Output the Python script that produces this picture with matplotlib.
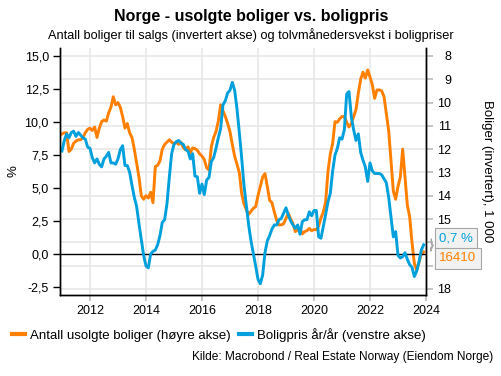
import numpy as np
import matplotlib
matplotlib.use("Agg")
import matplotlib.pyplot as plt
from matplotlib.ticker import FuncFormatter, MultipleLocator
from matplotlib.lines import Line2D

plt.rcParams["font.family"] = ["Liberation Sans", "DejaVu Sans"]

# Monthly data, Jan 2011 - Dec 2023
start_year = 2011
price_yoy = [  # Boligpris år/år, % (left axis)
    7.8, 8.6, 9.1, 8.8, 9.2, 9.3, 8.9, 9.2, 9.0, 8.8, 8.7, 8.1,
    8.0, 7.3, 6.9, 7.2, 6.8, 6.6, 7.2, 7.4, 7.7, 6.9, 6.9, 6.8,
    7.2, 7.9, 8.2, 6.7, 6.7, 6.2, 5.2, 4.3, 3.6, 2.3, 1.1, -0.1,
    -0.9, -1.05, 0.0, 0.2, 0.3, 0.7, 1.4, 2.4, 2.6, 3.8, 5.8, 7.6,
    8.3, 8.5, 8.6, 8.4, 8.3, 7.9, 7.8, 7.2, 7.6, 5.9, 5.85, 4.6,
    5.3, 4.5, 5.6, 5.8, 7.0, 7.3, 8.0, 8.8, 9.5, 11.3, 11.6, 12.2,
    12.4, 13.0, 12.4, 11.0, 9.2, 7.3, 5.2, 3.7, 2.2, 1.0, 0.05, -0.9,
    -1.9, -2.25, -1.6, 0.1, 1.0, 1.4, 1.9, 2.2, 2.2, 2.6, 2.7, 3.1,
    3.5, 2.95, 2.5, 2.2, 1.95, 2.2, 1.5, 2.45, 2.6, 2.6, 3.2, 2.9,
    3.3, 3.3, 1.3, 1.2, 2.1, 3.0, 3.95, 4.6, 6.3, 7.5, 8.0, 8.8,
    8.7, 9.4, 12.1, 12.3, 10.4, 9.4, 8.6, 9.1, 7.7, 7.1, 6.6, 5.5,
    6.9, 6.3, 6.1, 6.1, 6.1, 6.0, 5.7, 5.4, 4.3, 2.8, 1.3, 1.7,
    -0.1, -0.3, -0.2, 0.1, -0.4, -0.8, -1.0, -1.7, -1.3, -0.6, 0.3, 0.7,
]
unsold = [  # Antall usolgte boliger, 1000 (right axis, inverted)
    11.35, 11.3, 11.3, 12.1, 12.0, 11.75, 11.65, 11.6, 11.6, 11.5, 11.3, 11.15,
    11.1, 11.2, 11.05, 11.5, 11.1, 10.82, 10.75, 10.8, 10.45, 10.2, 9.75, 10.1,
    10.0, 10.2, 10.6, 11.1, 10.9, 11.3, 11.5, 12.0, 12.6, 13.2, 14.0, 14.15,
    14.0, 14.1, 13.85, 14.3, 12.75, 12.7, 12.5, 12.0, 11.8, 11.7, 11.6, 11.7,
    11.77, 11.7, 11.8, 11.7, 11.94, 12.03, 11.9, 12.15, 11.95, 11.98, 12.05, 12.2,
    12.3, 12.45, 12.8, 12.9, 11.9, 11.5, 11.25, 10.8, 10.1, 10.35, 10.6, 10.9,
    11.25, 11.8, 12.3, 12.65, 13.0, 13.9, 14.35, 14.6, 14.8, 14.67, 14.54, 14.47,
    14.0, 13.6, 13.2, 13.05, 13.6, 14.2, 14.3, 14.7, 15.05, 15.25, 15.25, 15.2,
    14.97, 14.75, 15.0, 15.2, 15.54, 15.46, 15.4, 15.64, 15.54, 15.5, 15.4, 15.5,
    15.45, 15.46, 15.3, 14.95, 14.7, 14.25, 12.95, 12.2, 11.75, 10.82, 10.85, 10.7,
    10.6, 10.6, 10.85, 11.05, 10.9, 10.6, 10.3, 9.6, 9.0, 8.7, 8.95, 8.6,
    8.9, 9.24, 9.82, 9.46, 9.46, 9.5, 9.75, 10.46, 11.2, 12.5, 13.8, 14.15,
    13.6, 13.2, 12.0, 13.2, 14.4, 14.9, 16.0, 16.9, 17.2, 16.85, 16.5, 16.41,
]
year_ticks = [2012, 2014, 2016, 2018, 2020, 2022, 2024]
hidden_right_labels = [16, 17]  # covered by the callout boxes

x = start_year + np.arange(len(price_yoy)) / 12.0

ORANGE = "#ff7f00"
BLUE = "#00a0dc"
GRID = "#e6e6e6"

fig = plt.figure(figsize=(5.02, 3.76), dpi=100)
ax_r = fig.add_axes([60 / 502, 81 / 376, 366 / 502, 247 / 376])
ax_l = ax_r.twinx()

# right axis: unsold homes, inverted, owns the grid
ax_r.plot(x, unsold, color=ORANGE, lw=2.1, solid_joinstyle="round")
ax_r.set_ylim(18.26, 7.66)
ax_r.yaxis.set_major_locator(MultipleLocator(1))
ax_r.yaxis.set_major_formatter(FuncFormatter(
    lambda v, p: "" if round(v) in hidden_right_labels else f"{v:.0f}"))
ax_r.yaxis.tick_right()
ax_r.grid(True, color=GRID, lw=1.1)
ax_r.set_axisbelow(True)
ax_r.set_xlim(2010.93, 2024.0)
ax_r.set_xticks(year_ticks)
ax_r.tick_params(axis="x", color="#bbbbbb", length=4, width=1.2, labelsize=9, pad=3)
ax_r.tick_params(axis="y", color="#bbbbbb", length=5, width=1.2, labelsize=9, pad=13)
for lab in ax_r.get_yticklabels():
    lab.set_horizontalalignment("right")
ax_r.set_ylabel("Boliger (invertert), 1 000", rotation=270, fontsize=9.5, va="center")
ax_r.yaxis.set_label_coords(1.167, 0.5)

# left axis: price growth
ax_l.axhline(0, color="black", lw=1.0, zorder=1)
ax_l.plot(x, price_yoy, color=BLUE, lw=2.1, solid_joinstyle="round", zorder=2)
ax_l.set_ylim(-3.1, 15.6)
ax_l.yaxis.set_major_locator(MultipleLocator(2.5))
ax_l.yaxis.set_major_formatter(FuncFormatter(lambda v, p: f"{v:.1f}".replace(".", ",")))
ax_l.yaxis.tick_left()
ax_l.tick_params(axis="y", color="black", length=5, width=1.0, labelsize=9, pad=3)
ax_l.set_ylabel("%", fontsize=9.5, va="center")
ax_l.yaxis.set_label_coords(-0.126, 0.5)

for a in (ax_r, ax_l):
    a.spines["top"].set_visible(False)
    for s in ("left", "right", "bottom"):
        a.spines[s].set_color("black")
        a.spines[s].set_linewidth(1.0)

# end-value callouts
box = dict(boxstyle="square,pad=0.32", fc="#f2f2f2", ec="#a6a6a6", lw=0.8)
arrow = dict(arrowstyle="wedge,tail_width=0.5,shrink_factor=0.5", fc="#f2f2f2", ec="#a6a6a6", lw=0.8)
ax_l.annotate(f"{price_yoy[-1]:.1f} %".replace(".", ","), xy=(1.006, 0.212), xycoords="axes fraction",
              xytext=(1.036, 0.228), textcoords="axes fraction", ha="left", va="center",
              fontsize=9.5, color=BLUE, bbox=box, arrowprops=arrow, annotation_clip=False)
ax_l.annotate(f"{unsold[-1] * 1000:.0f}", xy=(1.006, 0.196), xycoords="axes fraction",
              xytext=(1.036, 0.148), textcoords="axes fraction", ha="left", va="center",
              fontsize=9.5, color=ORANGE, bbox=box, arrowprops=arrow, annotation_clip=False)

fig.text(0.5, 0.955, "Norge - usolgte boliger vs. boligpris", ha="center", va="center",
         fontsize=11.5, fontweight="bold")
fig.text(0.5, 0.907, "Antall boliger til salgs (invertert akse) og tolvmånedersvekst i boligpriser",
         ha="center", va="center", fontsize=9.2)

handles = [Line2D([], [], color=ORANGE, lw=3), Line2D([], [], color=BLUE, lw=3)]
fig.legend(handles, ["Antall usolgte boliger (høyre akse)", "Boligpris år/år (venstre akse)"],
           loc="center left", bbox_to_anchor=(0.0, 0.109), ncol=2, frameon=False,
           fontsize=9.5, handlelength=1.0, handletextpad=0.4, columnspacing=0.6)
fig.text(0.982, 0.050, "Kilde: Macrobond / Real Estate Norway (Eiendom Norge)",
         ha="right", va="center", fontsize=8.6)

fig.savefig("out.png", dpi=100)
